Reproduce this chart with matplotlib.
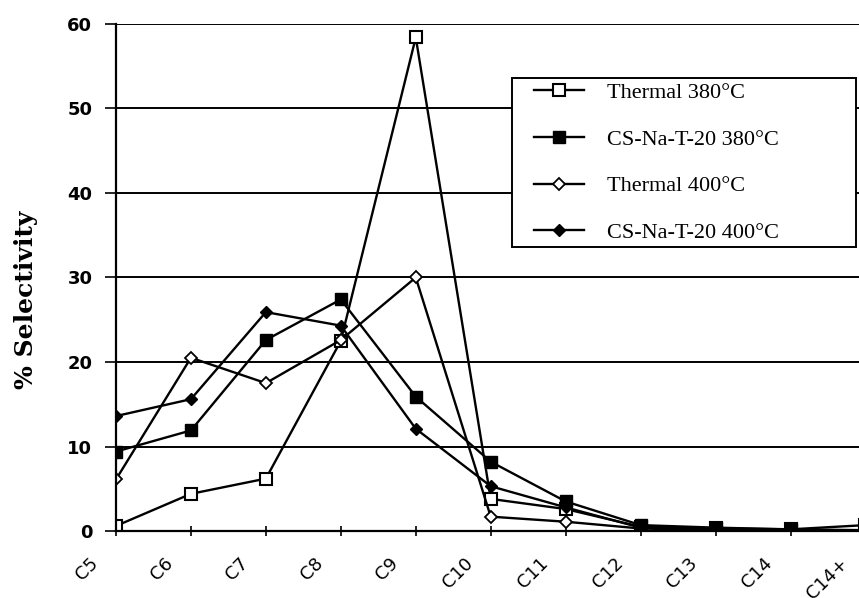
import matplotlib.pyplot as plt
import matplotlib.transforms as mtransforms
from matplotlib.legend_handler import HandlerLine2D
from matplotlib.lines import Line2D
import numpy as np

carbons = ['C5', 'C6', 'C7', 'C8', 'C9', 'C10', 'C11', 'C12', 'C13', 'C14', 'C14+']
thermal_380 = [0.6, 4.4, 6.2, 22.5, 58.4, 3.8, 2.6, 0.5, 0.3, 0.2, 0.7]
cs_na_380 = [9.4, 11.9, 22.6, 27.4, 15.9, 8.2, 3.5, 0.7, 0.4, 0.2, 0.1]
thermal_400 = [6.1, 20.5, 17.5, 22.6, 30.0, 1.7, 1.1, 0.3, 0.1, 0.1, 0.1]
cs_na_400 = [13.6, 15.6, 25.9, 24.3, 12.1, 5.3, 2.8, 0.4, 0.2, 0.1, 0.1]
labels = ['Thermal 380°C', 'CS-Na-T-20 380°C', 'Thermal 400°C', 'CS-Na-T-20 400°C']

fig = plt.figure(figsize=(8.59, 5.98), dpi=100)
# axes run a little past the right edge, like the original Excel sheet
ax = fig.add_axes([0.135, 0.112, 0.89, 0.848])
x = np.arange(len(carbons))

ax.plot(x, thermal_380, color='black', lw=1.7, marker='s', ms=8, mfc='white',
        mec='black', mew=1.5, label=labels[0])
ax.plot(x, cs_na_380, color='black', lw=1.7, marker='s', ms=9, mfc='black',
        mec='black', label=labels[1])
ax.plot(x, thermal_400, color='black', lw=1.7, marker='D', ms=6, mfc='white',
        mec='black', mew=1.3, label=labels[2])
ax.plot(x, cs_na_400, color='black', lw=1.7, marker='D', ms=6, mfc='black',
        mec='black', label=labels[3])

ax.set_xlim(0, 10.2)
ax.set_ylim(0, 60)
ax.set_yticks(np.arange(0, 61, 10))
ax.yaxis.grid(True, color='black', lw=1.4)
ax.set_axisbelow(True)
for s in ['top', 'right']:
    ax.spines[s].set_visible(False)
ax.spines['left'].set_linewidth(1.6)
ax.spines['bottom'].set_linewidth(1.6)

# x labels drawn by hand so they can sit down-left of each tick
ax.set_xticks(x)
ax.set_xticklabels([])
ax.tick_params(axis='x', length=7, width=1.2, direction='inout')
shift = mtransforms.ScaledTranslation(-27 / 100, -23 / 100, fig.dpi_scale_trans)
for i, lab in enumerate(carbons):
    ax.text(i, 0, lab, transform=ax.get_xaxis_transform() + shift,
            rotation=45, ha='right', va='top', rotation_mode='anchor',
            fontsize=13, family='DejaVu Sans')

ax.tick_params(axis='y', length=8, width=1.2, labelsize=13, pad=9)
for t in ax.get_yticklabels():
    t.set_fontweight('bold')
    t.set_family('DejaVu Sans')

ax.set_ylabel('% Selectivity', fontsize=18, fontweight='bold',
              family='DejaVu Serif')
ax.yaxis.set_label_coords(-0.102, 0.456)

leg = ax.legend(loc='upper left', bbox_to_anchor=(0.518, 0.893, 0.45, 0.0),
                mode='expand',
                prop={'family': 'Liberation Serif', 'size': 16},
                handler_map={Line2D: HandlerLine2D(xpad=0.79)},
                frameon=True, fancybox=False, edgecolor='black',
                handlelength=3.04, labelspacing=1.17, borderpad=0.2,
                handletextpad=1.04, borderaxespad=0)
leg.get_frame().set_linewidth(1.4)
leg.get_frame().set_alpha(1)

fig.savefig('out.png', dpi=100)
